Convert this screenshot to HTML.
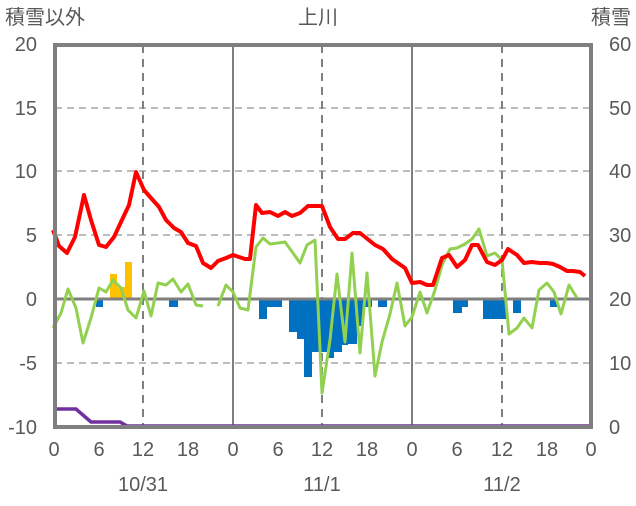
<!DOCTYPE html>
<html><head><meta charset="utf-8"><style>
body{margin:0;background:#fff;}
svg text{font-family:"Liberation Sans","Noto Sans CJK JP",sans-serif;fill:#595959;font-size:20px;}
</style></head><body>
<svg width="636" height="501" viewBox="0 0 636 501" xmlns="http://www.w3.org/2000/svg">
<rect width="636" height="501" fill="#fff"/>
<!-- grid -->
<g stroke="#a6a6a6" stroke-width="1.5" stroke-dasharray="7,5">
<line x1="55" y1="108" x2="591" y2="108"/>
<line x1="55" y1="171" x2="591" y2="171"/>
<line x1="55" y1="235" x2="591" y2="235"/>
<line x1="55" y1="363" x2="591" y2="363"/>
</g>
<g stroke="#7f7f7f" stroke-width="2" stroke-dasharray="8,6">
<line x1="143" y1="45" x2="143" y2="427"/>
<line x1="322" y1="45" x2="322" y2="427"/>
<line x1="502" y1="45" x2="502" y2="427"/>
</g>
<g stroke="#7f7f7f" stroke-width="2">
<line x1="233" y1="45" x2="233" y2="427"/>
<line x1="412" y1="45" x2="412" y2="427"/>
</g>
<!-- blue bars -->
<g fill="#0070c0">
<rect x="54" y="299" width="3" height="14"/>
<rect x="96" y="299" width="7" height="8"/>
<rect x="169" y="299" width="9" height="8"/>
<rect x="259" y="299" width="8" height="20"/>
<rect x="267" y="299" width="15" height="8"/>
<rect x="289" y="299" width="8" height="33"/>
<rect x="297" y="299" width="7" height="40"/>
<rect x="304" y="299" width="8" height="78"/>
<rect x="312" y="299" width="15" height="53"/>
<rect x="327" y="299" width="7" height="59"/>
<rect x="334" y="299" width="8" height="53"/>
<rect x="342" y="299" width="6" height="46"/>
<rect x="348" y="299" width="9" height="45"/>
<rect x="357" y="299" width="6" height="27"/>
<rect x="363" y="299" width="9" height="8"/>
<rect x="378" y="299" width="9" height="8"/>
<rect x="453" y="299" width="9" height="14"/>
<rect x="462" y="299" width="6" height="8"/>
<rect x="483" y="299" width="23" height="20"/>
<rect x="513" y="299" width="8" height="14"/>
<rect x="550" y="299" width="7" height="8"/>
</g>
<g fill="#ffc000">
<rect x="110" y="274" width="7" height="25"/>
<rect x="117" y="287" width="8" height="12"/>
<rect x="125" y="262" width="7" height="37"/>
</g>
<!-- zero line -->
<line x1="55" y1="299" x2="591" y2="299" stroke="#7f7f7f" stroke-width="3"/>
<!-- green -->
<g fill="none" stroke="#92d050" stroke-width="3" stroke-linejoin="round">
<polyline points="53,328 61,313 68,289 76,308 83,343 91,318 99,288 106,292 113,280 121,288 128,310 136,318 144,291 151,316 158,283 166,285 173,279 181,292 188,284 196,305 203,306"/>
<polyline points="218,306 226,285 233,292 240,308 248,310 256,247 263,238 270,244 278,243 285,242 293,253 300,263 307,245 315,240 322,393 330,340 337,274 345,342 352,253 360,353 367,273 375,376 382,342 390,314 397,283 405,326 412,317 420,292 427,313 435,290 442,265 450,249 457,248 465,244 472,239 479,229 487,256 495,253 502,260 509,334 517,328 524,318 532,328 539,290 547,283 554,292 561,314 569,285 577,298"/>
</g>
<!-- red -->
<polyline fill="none" stroke="#ff0000" stroke-width="4" stroke-linejoin="round" points="53,230 59,246 67,253 75,237 84,195 91,220 99,245 106,247 114,237 121,222 129,205 136,172 144,190 151,198 159,207 166,220 174,228 181,232 188,243 196,246 203,263 211,268 218,261 226,258 233,255 245,259 250,259 256,205 262,213 270,212 278,216 285,212 292,216 300,213 308,206 322,206 330,227 338,239 345,239 353,233 360,233 375,245 383,249 392,259 405,268 412,283 420,282 427,285 433,285 442,258 449,255 457,267 465,260 472,245 478,245 487,262 495,265 502,260 508,249 517,255 524,263 532,262 540,263 547,263 553,264 560,267 567,271 573,271 580,272 585,276"/>
<!-- purple -->
<polyline fill="none" stroke="#7030a0" stroke-width="3.5" points="54,409 76,409 91,422 120,422 127,426 589,426"/>
<!-- frame -->
<rect x="55" y="45" width="536" height="382" fill="none" stroke="#7f7f7f" stroke-width="4"/>
<!-- labels -->
<text x="5" y="24" font-size="20">積雪以外</text>
<text x="318" y="24" text-anchor="middle">上川</text>
<text x="631" y="24" text-anchor="end">積雪</text>
<g text-anchor="end">
<text x="37" y="51">20</text><text x="37" y="115">15</text><text x="37" y="178">10</text>
<text x="37" y="242">5</text><text x="37" y="306">0</text><text x="37" y="370">-5</text><text x="37" y="434">-10</text>
</g>
<g text-anchor="start">
<text x="609" y="51">60</text><text x="609" y="115">50</text><text x="609" y="178">40</text>
<text x="609" y="242">30</text><text x="609" y="306">20</text><text x="609" y="370">10</text><text x="609" y="434">0</text>
</g>
<g text-anchor="middle">
<text x="54" y="456">0</text><text x="99" y="456">6</text><text x="143" y="456">12</text><text x="188" y="456">18</text>
<text x="233" y="456">0</text><text x="278" y="456">6</text><text x="322" y="456">12</text><text x="367" y="456">18</text>
<text x="412" y="456">0</text><text x="457" y="456">6</text><text x="502" y="456">12</text><text x="547" y="456">18</text>
<text x="591" y="456">0</text>
<text x="143" y="491">10/31</text><text x="322" y="491">11/1</text><text x="502" y="491">11/2</text>
</g>
</svg>
</body></html>
